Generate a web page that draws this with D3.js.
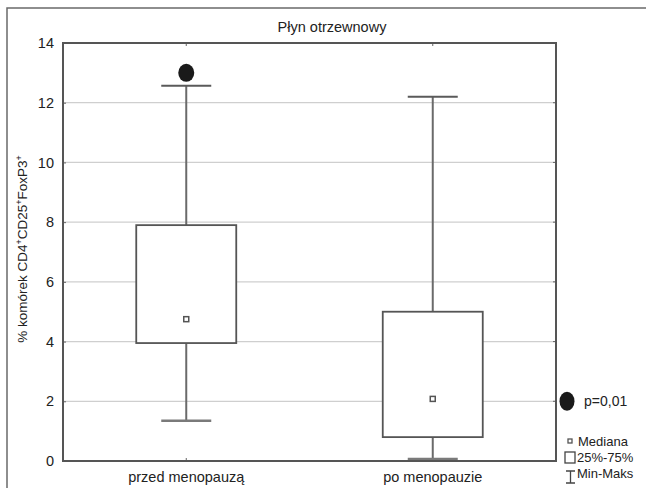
<!DOCTYPE html>
<html><head><meta charset="utf-8">
<script src="https://cdn.jsdelivr.net/npm/d3@7"></script>
<style>body{margin:0;background:#fff}svg{display:block}</style>
</head><body>
<script>
const categories = ["przed menopauzą", "po menopauzie"];
const minVals = [1.35, 0.07];
const q1Vals = [3.95, 0.8];
const medianVals = [4.75, 2.08];
const q3Vals = [7.9, 5.0];
const maxVals = [12.57, 12.2];
const outlierVals = [13.0, null];
const yTicks = [0, 2, 4, 6, 8, 10, 12, 14];
const title = "Płyn otrzewnowy";
const pText = "p=0,01";
const legendLabels = ["Mediana", "25%-75%", "Min-Maks"];

const W = 646, H = 488;
const svg = d3.select("body").append("svg").attr("width", W).attr("height", H)
  .style("font-family", "Arial, 'Liberation Sans', sans-serif");

const L = 63, R = 556, T = 43, B = 461;
const y = d3.scaleLinear().domain([0, 14]).range([B, T]);
const x = d3.scaleBand().domain(categories).range([L, R]).paddingInner(0.6).paddingOuter(0.3);
const cx = c => x(c) + x.bandwidth() / 2;
const bw = 100;
const txt = "#222";

// outer frame (clipped at right and bottom)
svg.append("path").attr("d", `M7,${H+5} L7,8 L${W+5},8`).attr("fill", "none")
  .attr("stroke", "#6a6a6a").attr("stroke-width", 1.5);

// title
svg.append("text").attr("x", 332).attr("y", 32).attr("text-anchor", "middle")
  .attr("font-size", 14.5).attr("fill", txt).text(title);

// gridlines
svg.append("g").selectAll("line").data(yTicks.filter(t => t > 0 && t < 14)).join("line")
  .attr("x1", L).attr("x2", R).attr("y1", d => y(d)).attr("y2", d => y(d))
  .attr("stroke", "#cfcfcf").attr("stroke-width", 1.2);

// y axis
const yAxis = d3.axisLeft(y).tickValues(yTicks).tickSize(-3).tickPadding(9).tickFormat(d3.format("d"));
const gy = svg.append("g").attr("transform", `translate(${L},0)`).call(yAxis);
gy.select(".domain").remove();
gy.selectAll(".tick line").attr("stroke", "#666");
gy.selectAll(".tick text").attr("font-size", 14.5).attr("fill", txt)
  .attr("font-family", "Arial, 'Liberation Sans', sans-serif");

// right ticks
svg.append("g").selectAll("line").data(yTicks).join("line")
  .attr("x1", R).attr("x2", R - 3).attr("y1", d => y(d)).attr("y2", d => y(d)).attr("stroke", "#666");

// x axis bottom
const xAxis = d3.axisBottom(x).tickSize(-3).tickPadding(11);
const gx = svg.append("g").attr("transform", `translate(0,${B})`).call(xAxis);
gx.select(".domain").remove();
gx.selectAll(".tick line").attr("stroke", "#666");
gx.selectAll(".tick text").attr("font-size", 14.5).attr("fill", txt)
  .attr("font-family", "Arial, 'Liberation Sans', sans-serif");
// top ticks
svg.append("g").selectAll("line").data(categories).join("line")
  .attr("x1", d => cx(d)).attr("x2", d => cx(d)).attr("y1", T).attr("y2", T + 3).attr("stroke", "#666");

// y label
svg.append("text").attr("transform", `translate(27,249) rotate(-90)`).attr("text-anchor", "middle")
  .attr("font-size", 13.5).attr("fill", txt)
  .html('% komórek CD4<tspan dy="-5" font-size="9">+</tspan><tspan dy="5">CD25</tspan><tspan dy="-5" font-size="9">+</tspan><tspan dy="5">FoxP3</tspan><tspan dy="-5" font-size="9">+</tspan>');

const data = categories.map((c, i) => ({c, min: minVals[i], q1: q1Vals[i], med: medianVals[i], q3: q3Vals[i], max: maxVals[i], out: outlierVals[i]}));

const g = svg.append("g");
g.selectAll(".wu").data(data).join("line")
  .attr("x1", d => cx(d.c)).attr("x2", d => cx(d.c)).attr("y1", d => y(d.q3)).attr("y2", d => y(d.max))
  .attr("stroke", "#6a6a6a").attr("stroke-width", 2);
g.selectAll(".wl").data(data).join("line")
  .attr("x1", d => cx(d.c)).attr("x2", d => cx(d.c)).attr("y1", d => y(d.q1)).attr("y2", d => y(d.min))
  .attr("stroke", "#6a6a6a").attr("stroke-width", 2);
g.selectAll(".cu").data(data).join("line")
  .attr("x1", d => cx(d.c) - 25).attr("x2", d => cx(d.c) + 25).attr("y1", d => y(d.max)).attr("y2", d => y(d.max))
  .attr("stroke", "#5a5a5a").attr("stroke-width", 2);
g.selectAll(".cl").data(data).join("line")
  .attr("x1", d => cx(d.c) - 25).attr("x2", d => cx(d.c) + 25).attr("y1", d => y(d.min)).attr("y2", d => y(d.min))
  .attr("stroke", "#7a7a7a").attr("stroke-width", 2.5);
g.selectAll(".box").data(data).join("rect")
  .attr("x", d => cx(d.c) - bw / 2).attr("width", bw)
  .attr("y", d => y(d.q3)).attr("height", d => y(d.q1) - y(d.q3))
  .attr("fill", "#fff").attr("stroke", "#555").attr("stroke-width", 1.8);
g.selectAll(".med").data(data).join("rect")
  .attr("x", d => cx(d.c) - 2.5).attr("y", d => y(d.med) - 2.5).attr("width", 5).attr("height", 5)
  .attr("fill", "#fff").attr("stroke", "#555").attr("stroke-width", 1.5);
g.selectAll(".out").data(data.filter(d => d.out != null)).join("ellipse")
  .attr("cx", d => cx(d.c)).attr("cy", d => y(d.out)).attr("rx", 8).attr("ry", 9).attr("fill", "#1a1a1a");

// plot frame
svg.append("rect").attr("x", L).attr("y", T).attr("width", R - L).attr("height", B - T)
  .attr("fill", "none").attr("stroke", "#555").attr("stroke-width", 2);

// p-value marker
svg.append("ellipse").attr("cx", 567).attr("cy", y(2)).attr("rx", 7.5).attr("ry", 9.5).attr("fill", "#1a1a1a");
svg.append("text").attr("x", 584).attr("y", y(2) + 5).attr("font-size", 14).attr("fill", txt).text(pText);

// legend
const lg = svg.append("g");
lg.append("rect").attr("x", 568).attr("y", 439).attr("width", 4).attr("height", 4)
  .attr("fill", "#fff").attr("stroke", "#555").attr("stroke-width", 1.3);
lg.append("rect").attr("x", 565).attr("y", 452).attr("width", 10).attr("height", 11)
  .attr("fill", "#fff").attr("stroke", "#444").attr("stroke-width", 1.3);
lg.append("path").attr("d", "M566,471 L575,471 M570.5,471 L570.5,483 M566,483 L575,483")
  .attr("stroke", "#444").attr("stroke-width", 1.3).attr("fill", "none");
lg.selectAll("text").data(legendLabels).join("text")
  .attr("x", (d, i) => i === 0 ? 578 : 577).attr("y", (d, i) => 446 + i * 16)
  .attr("font-size", 13).attr("fill", txt).text(d => d);
</script>
</body></html>
